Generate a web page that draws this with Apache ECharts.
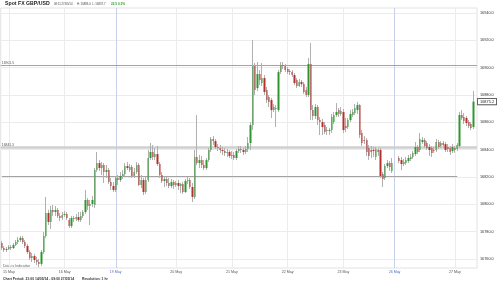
<!DOCTYPE html>
<html><head><meta charset="utf-8">
<script src="https://cdn.jsdelivr.net/npm/echarts@6/dist/echarts.min.js"></script>
<style>html,body{margin:0;padding:0;background:#fff}#c{width:500px;height:284px}</style>
</head><body><div id="c"></div>
<script>
// ---- data ----
const leadHours = ['21:00','22:00','23:00']; // 14 May bars before first label
const dayLabels = ['15 May','16 May','19 May','20 May','21 May','22 May','23 May','26 May','27 May'];
const dayBars   = [24, 22, 26, 24, 24, 24, 22, 26, 10];
const weekStarts = ['19 May','26 May'];
const yTicks = [16760,16780,16800,16820,16840,16860,16880,16900,16920,16940];
const refLevels = [16901.5, 16841.5];
const supportLevel = 16820.5;
const supportEndBar = 196;
const lastPrice = 16875.2;

const opens = [16771.7,16768.0,16766.6,16767.3,16768.8,16768.0,16770.2,16772.4,16773.9,16775.4,
16772.4,16769.5,16765.1,16760.7,16762.2,16759.3,16757.8,16756.4,16765.1,16776.8,
16793.7,16787.1,16795.9,16794.4,16795.9,16791.5,16790.0,16792.2,16792.9,16788.5,
16784.1,16790.0,16789.3,16790.7,16788.5,16791.5,16794.4,16803.2,16798.8,16800.2,
16799.5,16825.1,16830.2,16826.6,16828.8,16823.7,16825.1,16816.3,16813.4,16810.5,
16819.3,16817.8,16820.7,16822.2,16828.0,16825.1,16827.3,16820.7,16823.7,16828.8,
16814.1,16817.8,16809.0,16817.8,16833.9,16838.3,16834.6,16836.8,16829.5,16821.5,
16817.1,16818.5,16815.6,16813.4,16816.3,16814.1,16815.6,16813.4,16814.9,16809.0,
16817.1,16817.8,16812.7,16805.4,16834.6,16830.2,16832.4,16828.8,16826.6,16832.4,
16839.8,16847.8,16846.3,16841.9,16841.2,16839.8,16839.0,16837.6,16838.3,16835.4,
16836.1,16833.9,16839.0,16840.5,16839.8,16838.3,16840.5,16844.9,16858.0,16901.2,
16885.1,16895.4,16888.8,16892.4,16883.7,16878.5,16876.3,16869.0,16869.8,16869.0,
16896.8,16902.0,16901.2,16899.0,16897.6,16896.8,16894.6,16891.0,16886.6,16889.5,
16888.0,16883.7,16880.0,16902.7,16869.0,16864.6,16871.2,16861.7,16860.2,16858.0,
16854.4,16853.7,16854.4,16860.2,16865.4,16869.0,16866.1,16867.6,16857.3,16856.6,
16861.7,16865.4,16866.8,16869.0,16872.7,16852.2,16847.1,16847.1,16841.2,16839.8,
16839.8,16834.6,16839.8,16839.8,16822.2,16819.3,16828.0,16830.2,16824.4,null,
null,16833.9,16832.4,16829.5,16830.2,16831.7,16833.2,16834.6,16836.8,16841.9,
16839.8,16845.6,16847.1,16844.9,16841.9,16841.2,16839.8,16839.8,16845.6,16842.7,
16844.9,16844.1,16841.9,16841.2,16839.0,16841.2,16840.5,16842.7,16865.4,16863.9,
16863.2,16860.2,16858.8,16856.6];

const closes = [16768.0,16766.6,16767.3,16768.8,16768.0,16770.2,16772.4,16773.9,16775.4,16772.4,
16769.5,16765.1,16760.7,16762.2,16759.3,16757.8,16756.4,16765.1,16776.8,16793.7,
16787.1,16795.9,16794.4,16795.9,16791.5,16790.0,16792.2,16792.9,16790.0,16784.1,
16790.0,16789.3,16790.7,16788.5,16791.5,16794.4,16803.2,16798.8,16800.2,16803.2,
16825.1,16830.2,16826.6,16828.8,16823.7,16825.1,16816.3,16813.4,16810.5,16819.3,
16817.8,16820.7,16822.2,16828.0,16826.6,16827.3,16820.7,16823.7,16828.8,16814.1,
16817.8,16809.0,16817.8,16833.9,16838.3,16834.6,16836.8,16829.5,16821.5,16817.1,
16818.5,16815.6,16813.4,16816.3,16814.1,16815.6,16813.4,16814.9,16809.0,16817.1,
16817.8,16812.7,16805.4,16834.6,16830.2,16832.4,16828.8,16826.6,16832.4,16839.8,
16847.8,16846.3,16841.9,16841.2,16839.8,16839.0,16837.6,16838.3,16835.4,16836.1,
16833.9,16839.0,16840.5,16839.8,16838.3,16840.5,16844.9,16858.0,16901.2,16883.7,
16895.4,16891.0,16892.4,16882.2,16876.3,16874.9,16869.0,16871.2,16870.5,16896.8,
16902.0,16901.2,16898.3,16896.8,16896.8,16894.6,16888.8,16886.6,16889.5,16888.0,
16882.2,16880.0,16902.7,16869.0,16864.6,16871.2,16861.7,16860.2,16856.6,16852.9,
16853.7,16854.4,16863.9,16865.4,16867.6,16866.1,16868.3,16854.4,16855.8,16861.7,
16866.1,16867.6,16870.5,16872.7,16850.7,16844.9,16846.3,16838.3,16835.4,16838.3,
16839.0,16840.5,16838.3,16820.7,16818.5,16828.0,16830.2,16827.3,16830.2,null,
null,16831.7,16829.5,16831.0,16832.4,16833.9,16834.6,16837.6,16841.9,16838.3,
16847.8,16847.1,16842.7,16841.2,16839.8,16837.6,16839.0,16845.6,16841.9,16844.9,
16843.4,16839.8,16840.5,16838.3,16841.9,16839.8,16843.4,16865.4,16863.2,16861.0,
16859.5,16857.3,16855.8,16875.2];

const lows = [16766.6,16765.1,16765.1,16766.6,16766.6,16767.3,16769.5,16771.0,16772.4,16771.0,
16768.0,16763.7,16759.3,16757.8,16757.1,16755.6,16754.0,16754.9,16763.7,16775.4,
16784.9,16782.0,16791.5,16791.5,16790.0,16787.8,16788.5,16790.7,16788.5,16782.7,
16782.7,16787.1,16787.8,16787.1,16787.1,16790.0,16792.9,16795.9,16784.9,16798.0,
16797.3,16823.7,16824.4,16821.5,16815.6,16819.3,16814.9,16810.5,16809.0,16809.0,
16814.1,16816.3,16818.5,16820.7,16825.1,16823.7,16819.3,16819.3,16822.2,16813.4,
16811.9,16806.8,16807.6,16816.3,16832.4,16832.4,16832.4,16828.0,16819.3,16815.6,
16812.7,16813.4,16811.9,16811.9,16811.2,16812.7,16810.5,16808.3,16807.6,16808.3,
16814.9,16811.2,16801.7,16803.9,16828.8,16826.6,16826.6,16825.1,16825.1,16831.0,
16838.3,16843.4,16840.5,16839.0,16837.6,16836.1,16835.4,16834.6,16833.9,16833.2,
16832.4,16832.4,16837.6,16837.6,16836.1,16836.8,16838.3,16839.8,16854.4,16880.0,
16882.9,16887.3,16886.6,16880.0,16874.1,16871.2,16863.2,16867.6,16856.6,16867.6,
16895.4,16899.0,16896.8,16895.4,16894.6,16893.2,16887.3,16885.1,16885.9,16885.9,
16880.7,16878.5,16878.5,16861.7,16861.7,16862.4,16858.0,16850.7,16850.7,16851.5,
16850.7,16850.7,16852.2,16858.8,16863.9,16863.9,16864.6,16852.2,16852.9,16855.1,
16860.2,16863.9,16865.4,16866.1,16848.5,16842.7,16844.1,16835.4,16832.4,16833.9,
16834.6,16832.4,16835.4,16819.3,16812.7,16817.8,16826.6,16824.4,16822.9,null,
null,16830.2,16825.1,16828.0,16828.8,16830.2,16831.7,16833.2,16835.4,16836.8,
16838.3,16844.1,16841.2,16839.8,16835.4,16834.6,16837.6,16838.3,16840.5,16841.2,
16841.2,16838.3,16838.3,16836.1,16837.6,16837.7,16839.0,16841.2,16861.7,16858.8,
16857.3,16855.8,16854.4,16855.1];

const highs = [16773.2,16769.5,16768.8,16770.2,16770.2,16771.7,16773.9,16776.1,16776.8,16776.8,
16773.9,16771.0,16766.6,16764.4,16763.7,16761.5,16760.0,16766.6,16779.8,16805.4,
16795.9,16798.8,16799.5,16798.8,16797.3,16793.7,16794.4,16795.1,16794.4,16790.0,
16791.5,16791.5,16792.9,16794.4,16794.4,16795.9,16810.5,16804.6,16803.2,16806.1,
16826.6,16838.3,16832.4,16831.0,16830.2,16828.8,16826.6,16819.3,16816.3,16820.7,
16821.5,16823.7,16825.1,16830.2,16831.0,16829.5,16828.8,16826.6,16831.0,16830.2,
16821.5,16819.3,16820.0,16839.8,16844.9,16843.4,16841.2,16842.7,16831.0,16823.7,
16820.7,16820.0,16819.3,16818.5,16817.8,16817.1,16817.8,16815.6,16816.3,16818.5,
16820.0,16819.3,16815.6,16839.8,16865.4,16836.1,16835.4,16832.4,16833.9,16841.2,
16849.3,16850.0,16847.8,16844.1,16843.4,16841.9,16841.2,16840.5,16839.8,16839.0,
16838.3,16840.5,16842.7,16842.7,16841.2,16842.7,16849.3,16860.2,16920.2,16903.4,
16904.2,16898.3,16903.4,16894.6,16885.9,16880.0,16877.8,16873.4,16872.7,16898.3,
16904.2,16904.2,16902.7,16900.5,16899.0,16898.3,16896.1,16892.4,16891.7,16891.0,
16889.5,16885.9,16907.1,16918.0,16872.7,16873.4,16872.7,16863.9,16862.4,16860.2,
16856.6,16855.8,16866.1,16867.6,16874.1,16870.5,16871.2,16869.8,16863.2,16863.2,
16869.0,16869.8,16873.4,16874.9,16873.4,16854.4,16850.0,16848.5,16843.4,16842.7,
16841.9,16841.9,16841.2,16841.2,16823.7,16829.5,16832.4,16831.7,16833.9,null,
null,16835.4,16834.6,16833.2,16834.6,16836.1,16836.8,16839.0,16845.6,16843.4,
16852.2,16849.3,16848.5,16846.3,16844.1,16842.7,16841.9,16847.8,16847.1,16846.3,
16846.3,16845.6,16844.1,16842.7,16844.1,16842.7,16844.9,16867.6,16869.0,16866.8,
16864.6,16861.7,16860.2,16883.0];

// ---- build categories ----
const categories = [];
const dayAtIndex = {};
leadHours.forEach(h => categories.push('14 May ' + h));
dayLabels.forEach((d, j) => {
  dayAtIndex[categories.length] = d;
  for (let k = 0; k < dayBars[j]; k++) categories.push(d + ' #' + k);
});
const dayName = v => String(v).split(' #')[0];

const wickData = opens.map((o, i) => o == null ? ['-','-','-','-'] : [o, closes[i], lows[i], highs[i]]);
const bodyData = opens.map((o, i) => o == null ? ['-','-','-','-'] :
  [o, closes[i], Math.min(o, closes[i]), Math.max(o, closes[i])]);

const GREEN = '#2f962f', RED = '#b3302c', WICK = '#b0b0b0';
const FONT = 'Liberation Sans, Arial, sans-serif';

const gridLines = yTicks.map(v => ({ yAxis: v, lineStyle: { color: '#ececec', width: 1, type: 'solid' }, label: { show: false } }));
const dayLines = Object.keys(dayAtIndex).map(i => {
  const d = dayAtIndex[i];
  const wk = weekStarts.includes(d);
  return { xAxis: categories[i], lineStyle: { color: wk ? '#c9d1ea' : '#ececec', width: 1, type: 'solid' }, label: { show: false } };
});
const refLines = refLevels.map((v, k) => ({
  yAxis: v,
  lineStyle: { color: k === 0 ? '#a3a3a3' : '#cfcfcf', width: k === 0 ? 1 : 2.5, type: 'solid' },
  label: { show: true, position: 'insideStartTop', formatter: v.toFixed(1), fontSize: 3.4, color: '#555', distance: 1, fontFamily: FONT }
}));
const supportLine = [
  { coord: [categories[0], supportLevel], lineStyle: { color: '#a3a3a3', width: 1, type: 'solid' }, label: { show: false } },
  { coord: [categories[supportEndBar], supportLevel] }
];

const chart = echarts.init(document.getElementById('c'), null, { renderer: 'canvas' });
chart.setOption({
  animation: false,
  backgroundColor: '#fff',
  textStyle: { fontFamily: FONT },
  grid: { left: 0, right: 23, top: 8, bottom: 16, show: true, borderColor: '#e2e2e2', borderWidth: 1, backgroundColor: 'transparent' },
  xAxis: {
    type: 'category', data: categories, boundaryGap: true,
    axisLine: { show: false }, axisTick: { show: false }, splitLine: { show: false },
    axisLabel: {
      interval: (i) => dayAtIndex[i] !== undefined,
      formatter: (v) => dayName(v),
      color: (v) => weekStarts.includes(dayName(v)) ? '#4d6fc4' : '#555',
      fontSize: 3.6, margin: 2, fontFamily: FONT
    }
  },
  yAxis: {
    type: 'value', position: 'right', min: 16753.4, max: 16943.7, scale: true,
    axisLine: { show: false }, axisTick: { show: false }, splitLine: { show: false },
    axisLabel: { customValues: yTicks, formatter: v => v.toFixed(1), fontSize: 3.8, color: '#333', margin: 3, fontFamily: FONT }
  },
  series: [
    {
      type: 'candlestick', name: 'wick', data: wickData, barWidth: 0.8,
      itemStyle: { color: WICK, color0: WICK, borderColor: WICK, borderColor0: WICK, borderWidth: 1 },
      markLine: {
        silent: true, symbol: 'none', z: 1, animation: false,
        data: gridLines.concat(dayLines).concat(refLines).concat([supportLine])
      }
    },
    {
      type: 'candlestick', name: 'body', data: bodyData, barWidth: 1.8,
      itemStyle: { color: GREEN, color0: RED, borderColor: GREEN, borderColor0: RED, borderWidth: 0 },
      markLine: {
        silent: true, symbol: 'none', animation: false,
        data: [{
          yAxis: lastPrice, lineStyle: { color: 'rgba(0,0,0,0)', width: 1 },
          label: { show: true, position: 'end', formatter: lastPrice.toFixed(1), fontSize: 3.9, color: '#222', opacity: 1,
                   backgroundColor: '#fff', borderColor: '#444', borderWidth: 0.8, padding: [1, 2, 0.5, 2], distance: 1, fontFamily: FONT }
        }]
      }
    }
  ],
  graphic: [
    { type: 'text', left: 5, top: 1.5, style: { text: 'Spot FX GBP/USD', font: 'bold 5.2px ' + FONT, fill: '#222' } },
    { type: 'text', left: 54, top: 2.8, style: { text: '08:11 27/05/14', font: '2.8px ' + FONT, fill: '#444' } },
    { type: 'text', left: 77, top: 2.8, style: { text: 'H: 16883.0  L: 16837.7', font: '2.8px ' + FONT, fill: '#444' } },
    { type: 'text', left: 111, top: 2.6, style: { text: '22.5 0.2%', font: 'bold 3.1px ' + FONT, fill: '#2e9c2e' } },
    { type: 'text', left: 3, top: 263.5, style: { text: 'Data is Indicative', font: '3.6px ' + FONT, fill: '#666' } },
    { type: 'text', left: 3, top: 278, style: { text: 'Chart Period: 21:00 14/05/14 - 09:00 27/05/14', font: 'bold 3.4px ' + FONT, fill: '#333' } },
    { type: 'text', left: 82, top: 278, style: { text: 'Resolution: 1 hr', font: 'bold 3.4px ' + FONT, fill: '#333' } }
  ]
});
</script>
</body></html>
